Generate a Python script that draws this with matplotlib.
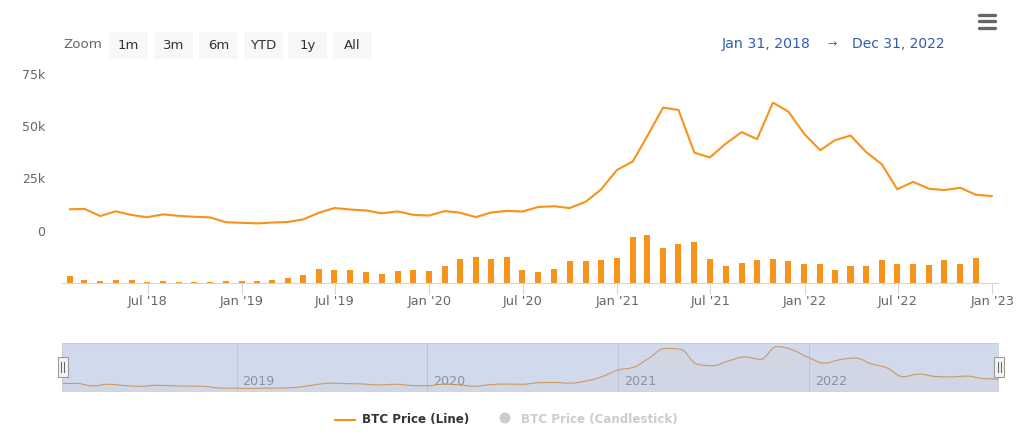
import numpy as np
import pandas as pd
import matplotlib
matplotlib.use("Agg")
import matplotlib.pyplot as plt
import matplotlib.dates as mdates
from matplotlib.patches import FancyBboxPatch, Rectangle, Circle, PathPatch
from matplotlib.lines import Line2D
from matplotlib.path import Path
from matplotlib.transforms import IdentityTransform

W, H = 1024, 432

# ── Data (monthly closes) ─────────────────────────────────────────────────────
DATES = pd.date_range("2018-01-31", periods=60, freq="ME")
PRICE_K = [10.22, 10.40, 6.97, 9.24, 7.49, 6.40, 7.78, 7.04, 6.63, 6.32, 4.02, 3.74,
           3.46, 3.85, 4.11, 5.35, 8.57, 10.82, 10.09, 9.63, 8.29, 9.20, 7.57, 7.19,
           9.35, 8.60, 6.44, 8.66, 9.46, 9.14, 11.32, 11.68, 10.78, 13.78, 19.63, 29.00,
           33.11, 45.14, 58.92, 57.75, 37.33, 35.04, 41.63, 47.17, 43.79, 61.32, 57.01, 46.31,
           38.48, 43.19, 45.54, 37.71, 31.79, 19.78, 23.34, 20.05, 19.43, 20.50, 17.17, 16.55]
# volume (bn), Jan 2018 - Nov 2022 (no bar for Dec 2022)
VOLUME_B = [200, 100, 60, 100, 100, 30, 60, 30, 30, 30, 60, 60,
            60, 100, 140, 250, 430, 400, 400, 320, 280, 350, 400, 350,
            500, 720, 790, 720, 790, 400, 320, 430, 650, 650, 690, 760,
            1370, 1450, 1040, 1160, 1230, 720, 500, 610, 690, 720, 650, 580,
            580, 400, 500, 500, 690, 580, 580, 540, 690, 580, 760]
X_TICKS = pd.date_range("2018-07-01", "2023-01-01", freq="6MS")
NAV_YEARS = pd.to_datetime(["2019-01-01", "2020-01-01", "2021-01-01", "2022-01-01"])
BUTTONS = ["1m", "3m", "6m", "YTD", "1y", "All"]

ORANGE = "#f7931a"
AXIS = "#ccd6eb"
LABEL = "#666666"

price = np.array(PRICE_K) * 1000


def fx(x):
    return x / W


def fy(y):
    return 1 - y / H


fig = plt.figure(figsize=(W / 100, H / 100), dpi=100)
fig.patch.set_facecolor("white")
plt.rcParams["font.family"] = "DejaVu Sans"

# ── Main price pane ───────────────────────────────────────────────────────────
ax = fig.add_axes([fx(62), fy(232), 936 / W, 158 / H])
axv = fig.add_axes([fx(62), fy(283), 936 / W, 51 / H], sharex=ax)

ax.plot(DATES, price, color=ORANGE, lw=1.5, solid_joinstyle="round", zorder=3)
ax.set_ylim(-670, 75000)
ax.set_yticks([0, 25000, 50000, 75000])
ax.set_yticklabels(["0", "25k", "50k", "75k"])
ax.tick_params(axis="y", length=0, pad=12.2, labelsize=9, labelcolor=LABEL)
ax.tick_params(axis="x", bottom=False, labelbottom=False)
for s in ax.spines.values():
    s.set_visible(False)
ax.set_facecolor("none")

# ── Volume pane ───────────────────────────────────────────────────────────────
axv.bar(DATES[:len(VOLUME_B)], VOLUME_B, width=11.7, color=ORANGE, zorder=2)
axv.set_ylim(0, 1530)
axv.set_yticks([])
for name, s in axv.spines.items():
    s.set_visible(name == "bottom")
axv.spines["bottom"].set_color(AXIS)
axv.spines["bottom"].set_linewidth(0.75)
axv.set_facecolor("none")
axv.set_xticks(X_TICKS)
axv.xaxis.set_major_formatter(mdates.DateFormatter("%b '%y"))
axv.tick_params(axis="x", length=8, width=0.75, color=AXIS, pad=1,
                labelsize=9.3, labelcolor=LABEL)
ax.set_xlim(pd.Timestamp("2018-01-15 10:00"), pd.Timestamp("2023-01-12 06:00"))

# ── Navigator ─────────────────────────────────────────────────────────────────
axn = fig.add_axes([fx(62), fy(392), 937 / W, 49 / H])
axn.set_xlim(DATES[0], DATES[-1])
y_lo, y_hi = -1500, 66400
axn.set_ylim(y_lo, y_hi)
axn.set_xticks([])
axn.set_yticks([])
for s in axn.spines.values():
    s.set_visible(False)

for d in NAV_YEARS:
    axn.axvline(d, color="#e6e6e6", lw=0.75, zorder=1)
    axn.annotate(str(d.year), xy=(d, 0.21), xycoords=("data", "axes fraction"),
                 xytext=(4.1, 0), textcoords="offset points", ha="left", va="center",
                 fontsize=9.2, color="#999999", zorder=2)


def spline_path(xs, ys):
    # Highcharts-style spline control points
    sm, den = 1.5, 2.5
    n = len(xs)
    left = [(xs[i], ys[i]) for i in range(n)]
    right = [(xs[i], ys[i]) for i in range(n)]
    for i in range(1, n - 1):
        lx = (sm * xs[i] + xs[i - 1]) / den
        ly = (sm * ys[i] + ys[i - 1]) / den
        rx = (sm * xs[i] + xs[i + 1]) / den
        ry = (sm * ys[i] + ys[i + 1]) / den
        if rx != lx:
            corr = ((ry - ly) * (rx - xs[i])) / (rx - lx) + ys[i] - ry
            ly += corr
            ry += corr
        if ly > max(ys[i - 1], ys[i]):
            ly = max(ys[i - 1], ys[i]); ry = 2 * ys[i] - ly
        elif ly < min(ys[i - 1], ys[i]):
            ly = min(ys[i - 1], ys[i]); ry = 2 * ys[i] - ly
        if ry > max(ys[i + 1], ys[i]):
            ry = max(ys[i + 1], ys[i]); ly = 2 * ys[i] - ry
        elif ry < min(ys[i + 1], ys[i]):
            ry = min(ys[i + 1], ys[i]); ly = 2 * ys[i] - ry
        left[i] = (lx, ly)
        right[i] = (rx, ry)
    verts = [(xs[0], ys[0])]
    codes = [Path.MOVETO]
    for i in range(1, n):
        verts += [right[i - 1], left[i], (xs[i], ys[i])]
        codes += [Path.CURVE4] * 3
    return verts, codes


xn = mdates.date2num(DATES)
verts, codes = spline_path(list(xn), list(price))
axn.add_patch(PathPatch(Path(verts, codes), facecolor="none", edgecolor=ORANGE,
                        lw=0.8, alpha=0.85, zorder=3))
fverts = verts + [(xn[-1], y_lo), (xn[0], y_lo), (xn[0], price[0])]
fcodes = codes + [Path.LINETO, Path.LINETO, Path.CLOSEPOLY]
axn.add_patch(PathPatch(Path(fverts, fcodes), facecolor=ORANGE, alpha=0.05,
                        edgecolor="none", zorder=2))
axn.add_patch(Rectangle((0, 0), 1, 1, transform=axn.transAxes,
                        facecolor=(102 / 255, 133 / 255, 194 / 255), alpha=0.3,
                        edgecolor="none", zorder=4))
axn.add_patch(Rectangle((0, 0), 1, 1, transform=axn.transAxes, facecolor="none",
                        edgecolor="#cccccc", lw=0.75, zorder=5))

# navigator handles
for cx in (62.7, 999):
    cy = H - 366.7
    fig.add_artist(Rectangle((cx - 5, cy - 10), 10, 20, transform=IdentityTransform(),
                             facecolor="#f2f2f2", edgecolor="#999999", lw=0.75))
    for dx in (-1.5, 1.5):
        fig.add_artist(Line2D([cx + dx, cx + dx], [cy - 5, cy + 5],
                              transform=IdentityTransform(), color="#666666", lw=0.75))

# ── Range selector ────────────────────────────────────────────────────────────
fig.text(fx(63), fy(45), "Zoom", fontsize=9.6, color=LABEL, ha="left", va="center")
BTN_X = [109, 154, 199, 244, 288, 333]
for label, x0 in zip(BUTTONS, BTN_X):
    fig.add_artist(FancyBboxPatch((x0, H - 59), 39, 27, transform=IdentityTransform(),
                                  boxstyle="round,pad=0,rounding_size=2",
                                  facecolor="#f7f7f7", edgecolor="none"))
    fig.text(fx(x0 + 19.5), fy(45.5), label, fontsize=9.5, color="#333333",
             ha="center", va="center")

fig.text(fx(721.7), fy(44), "Jan 31, 2018", fontsize=10.2, color="#335cad",
         ha="left", va="center")
fig.text(fx(832), fy(44), "→", fontsize=8, color=LABEL, ha="center", va="center")
fig.text(fx(851.7), fy(44), "Dec 31, 2022", fontsize=10, color="#335cad",
         ha="left", va="center")

# hamburger menu
for yy in (15, 21.2, 27.6):
    fig.add_artist(Line2D([978.5, 995], [H - yy, H - yy], transform=IdentityTransform(),
                          color="#666666", lw=2.4, solid_capstyle="round"))

# ── Legend ────────────────────────────────────────────────────────────────────
fig.add_artist(Line2D([335, 355], [H - 420, H - 420], transform=IdentityTransform(),
                      color=ORANGE, lw=1.5))
fig.text(fx(361.7), fy(420), "BTC Price (Line)", fontsize=8.6, fontweight="bold",
         color="#333333", ha="left", va="center")
fig.add_artist(Circle((505, H - 418), 5.5, transform=IdentityTransform(),
                      facecolor="#cccccc", edgecolor="none"))
fig.text(fx(521), fy(420), "BTC Price (Candlestick)", fontsize=8.6, fontweight="bold",
         color="#cccccc", ha="left", va="center")

fig.savefig("out.png", dpi=100)
